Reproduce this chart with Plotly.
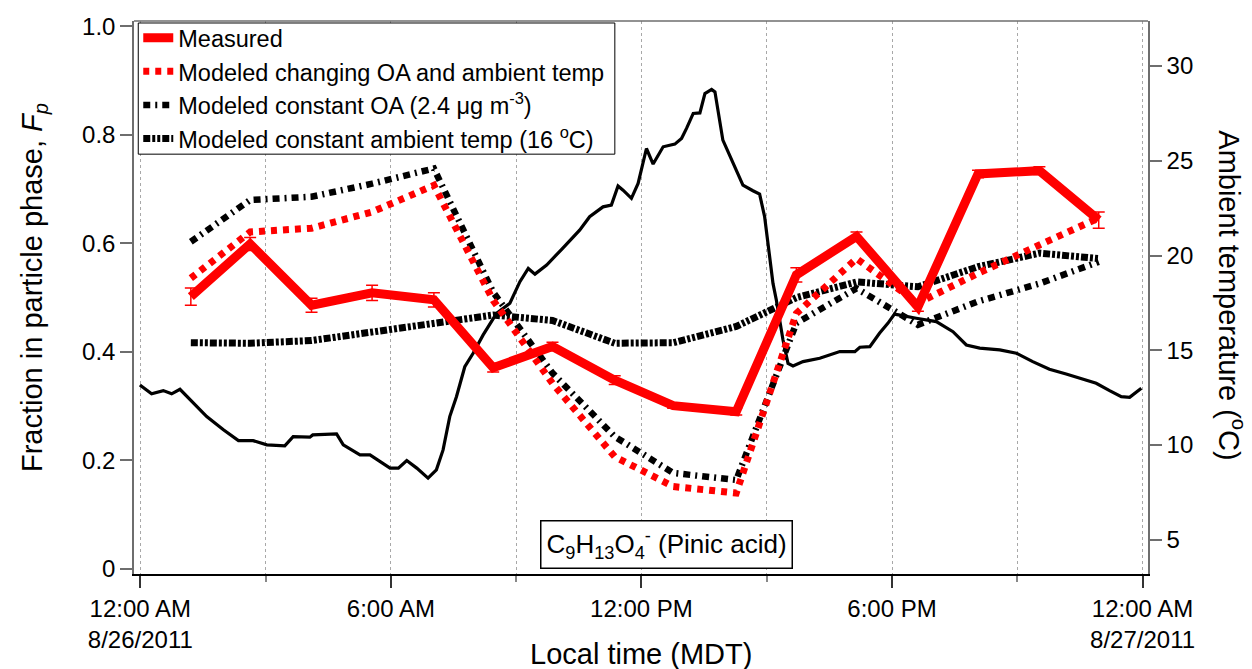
import plotly.graph_objects as go

# Sampling times (hours after midnight, 8/26/2011) of the particle-phase fractions
hours = [1.21, 2.63, 4.10, 5.55, 7.03, 8.45, 9.87, 11.36, 12.76, 14.27,
         15.71, 17.15, 18.62, 20.06, 21.53, 22.95]

fp_measured = [0.502, 0.599, 0.486, 0.509, 0.496, 0.371, 0.410, 0.348, 0.301, 0.290,
               0.542, 0.613, 0.483, 0.728, 0.734, 0.643]
fp_measured_err = [0.016, 0.012, 0.013, 0.014, 0.013, 0.008, 0.008, 0.008, 0.005, 0.006,
                   0.013, 0.008, 0.008, 0.007, 0.007, 0.015]
fp_changing = [0.536, 0.621, 0.628, 0.658, 0.707, 0.495, 0.342, 0.207, 0.152, 0.140,
               0.471, 0.572, 0.490, 0.545, 0.597, 0.647]
fp_const_oa = [0.603, 0.680, 0.686, 0.710, 0.738, 0.510, 0.361, 0.244, 0.177, 0.164,
               0.453, 0.517, 0.450, 0.493, 0.526, 0.566]
fp_const_temp = [0.417, 0.416, 0.421, 0.437, 0.453, 0.468, 0.458, 0.416, 0.417, 0.447,
                 0.500, 0.529, 0.520, 0.557, 0.582, 0.572]

# Ambient temperature record (hours, deg C)
temp_hours = [-0.01, 0.27, 0.55, 0.75, 0.95, 1.19, 1.59, 1.99, 2.35, 2.70, 3.03, 3.46,
              3.66, 4.06, 4.13, 4.70, 4.86, 5.26, 5.50, 5.98, 6.18, 6.38, 6.62, 6.89,
              7.09, 7.25, 7.41, 7.57, 7.77, 7.97, 8.21, 8.53, 8.85, 9.09, 9.29, 9.45,
              9.73, 10.09, 10.52, 10.76, 11.08, 11.28, 11.44, 11.56, 11.76, 11.92, 12.12,
              12.28, 12.52, 12.80, 12.96, 13.08, 13.24, 13.40, 13.52, 13.68, 13.76, 13.95,
              14.19, 14.43, 14.67, 14.83, 14.95, 15.03, 15.15, 15.23, 15.39, 15.51, 15.63,
              15.87, 16.27, 16.75, 17.11, 17.23, 17.47, 17.70, 17.90, 18.06, 18.26, 18.58,
              19.06, 19.46, 19.78, 20.10, 20.58, 20.98, 21.37, 21.77, 22.17, 22.49, 22.89,
              23.21, 23.49, 23.69, 23.85, 23.97]
temp_c = [13.17, 12.70, 12.87, 12.70, 12.94, 12.38, 11.50, 10.80, 10.23, 10.23, 10.01, 9.95,
          10.44, 10.41, 10.53, 10.59, 10.01, 9.48, 9.48, 8.78, 8.78, 9.18, 8.78, 8.25,
          8.69, 9.74, 11.50, 12.55, 14.13, 14.84, 15.81, 16.95, 17.48, 18.62, 19.32, 19.02,
          19.50, 20.33, 21.34, 22.05, 22.57, 22.66, 23.67, 23.45, 23.02, 23.81, 25.65,
          24.83, 25.74, 25.88, 26.18, 26.71, 27.50, 27.53, 28.55, 28.77, 28.64, 26.09,
          24.86, 23.72, 23.42, 23.24, 22.05, 20.64, 18.53, 17.65, 15.54, 14.31, 14.17,
          14.40, 14.58, 14.93, 14.93, 15.16, 15.19, 15.90, 16.42, 16.91, 16.82, 16.69,
          16.51, 15.98, 15.28, 15.11, 15.02, 14.84, 14.40, 14.00, 13.75, 13.52, 13.26,
          12.87, 12.55, 12.52, 12.82, 13.00]

x_tickvals = [0, 6, 12, 18, 24]
x_ticktext = ["12:00 AM<br>8/26/2011", "6:00 AM", "12:00 PM", "6:00 PM",
              "12:00 AM<br>8/27/2011"]
fp_tickvals = [0, 0.2, 0.4, 0.6, 0.8, 1.0]
fp_ticktext = ["0", "0.2", "0.4", "0.6", "0.8", "1.0"]
temp_tickvals = [5, 10, 15, 20, 25, 30]

FONT = "Liberation Sans, Arial, sans-serif"
AXIS_GREY = "#6e6e6e"

fig = go.Figure()

# Temperature on the base (right-hand) axis so the Fp curves sit above it
fig.add_trace(go.Scatter(
    x=temp_hours, y=temp_c, mode="lines", yaxis="y",
    line=dict(color="black", width=3.2), showlegend=False, hoverinfo="skip"))

fig.add_trace(go.Scatter(
    x=hours, y=fp_const_temp, mode="lines", yaxis="y2",
    name="Modeled constant ambient temp (16 <sup>o</sup>C)", legendrank=4,
    line=dict(color="black", width=7, dash="7px,2px,3px,2px,3px,2px")))

fig.add_trace(go.Scatter(
    x=hours, y=fp_const_oa, mode="lines", yaxis="y2",
    name="Modeled constant OA (2.4 μg m<sup>-3</sup>)", legendrank=3,
    line=dict(color="black", width=6.5, dash="7px,5px,2px,5px")))

fig.add_trace(go.Scatter(
    x=hours, y=fp_changing, mode="lines", yaxis="y2",
    name="Modeled changing OA and ambient temp", legendrank=2,
    line=dict(color="#ff0000", width=7, dash="6px,6px")))

fig.add_trace(go.Scatter(
    x=hours, y=fp_measured, mode="lines", yaxis="y2",
    name="Measured", legendrank=1,
    line=dict(color="#ff0000", width=9)))

fig.add_trace(go.Scatter(
    x=hours, y=fp_measured, mode="markers", yaxis="y2",
    marker=dict(size=1, color="rgba(0,0,0,0)"),
    error_y=dict(type="data", array=fp_measured_err, color="#ff0000",
                 thickness=1.5, width=6),
    showlegend=False, hoverinfo="skip"))

fig.update_layout(
    width=1252, height=669,
    margin=dict(l=134, r=104, t=21, b=95),
    paper_bgcolor="white", plot_bgcolor="white",
    font=dict(family=FONT, size=24, color="black"),
    xaxis=dict(
        range=[-0.151, 24.13], tickvals=x_tickvals, ticktext=x_ticktext,
        ticks="outside", ticklen=12, tickwidth=1.5, tickcolor="#333",
        showline=True, linecolor="black", linewidth=1.5,
        showgrid=True, gridcolor="#a8a8a8", griddash="dot", gridwidth=1,
        zeroline=False, tickfont=dict(size=24),
        minor=dict(dtick=3, tick0=0, ticks="outside", ticklen=6, tickwidth=1.5,
                   tickcolor="#888", showgrid=True, gridcolor="#a8a8a8",
                   griddash="dot", gridwidth=1),
    ),
    yaxis=dict(
        side="right", range=[3.19, 32.38], tickvals=temp_tickvals,
        ticks="outside", ticklen=12, tickwidth=1.5, tickcolor=AXIS_GREY,
        showline=True, linecolor=AXIS_GREY, linewidth=1.5,
        showgrid=False, zeroline=False, tickfont=dict(size=24),
    ),
    yaxis2=dict(
        overlaying="y", side="left", range=[-0.0092, 1.0098],
        tickvals=fp_tickvals, ticktext=fp_ticktext,
        ticks="outside", ticklen=12, tickwidth=1.5, tickcolor=AXIS_GREY,
        showline=True, linecolor=AXIS_GREY, linewidth=1.5,
        showgrid=False, zeroline=False, tickfont=dict(size=24),
    ),
    legend=dict(
        x=0.0042, y=1.009, xanchor="left", yanchor="top",
        bgcolor="rgba(0,0,0,0)", borderwidth=0,
        font=dict(size=23.5), itemwidth=30, tracegroupgap=0,
    ),
    shapes=[
        # top edge of the plot frame
        dict(type="line", xref="paper", yref="paper", x0=0, x1=1, y0=1, y1=1,
             line=dict(color=AXIS_GREY, width=1.5)),
        # legend box
        dict(type="rect", xref="paper", yref="paper", layer="above",
             x0=0.0042, x1=0.4742, y0=0.7592, y1=0.9964,
             fillcolor="white", line=dict(color="black", width=1)),
    ],
    annotations=[
        dict(text="Fraction in particle phase, <i>F</i><sub><i>p</i></sub>",
             xref="paper", yref="paper", x=-0.0986, y=0.5172, textangle=-90,
             showarrow=False, xanchor="center", yanchor="middle",
             font=dict(size=29)),
        dict(text="Ambient temperature (<sup>o</sup>C)",
             xref="paper", yref="paper", x=1.0825, y=0.5046, textangle=90,
             showarrow=False, xanchor="center", yanchor="middle",
             font=dict(size=29)),
        dict(text="Local time (MDT)",
             xref="paper", yref="paper", x=0.4998, y=-0.144,
             showarrow=False, xanchor="center", yanchor="middle",
             font=dict(size=29)),
        dict(text="C<sub>9</sub>H<sub>13</sub>O<sub>4</sub><sup>-</sup> (Pinic acid)",
             xref="paper", yref="paper", x=0.5255, y=0.053,
             showarrow=False, xanchor="center", yanchor="middle",
             bgcolor="white", bordercolor="black", borderwidth=1.5, borderpad=5,
             font=dict(size=26)),
    ],
)

fig.write_html("out.html")
